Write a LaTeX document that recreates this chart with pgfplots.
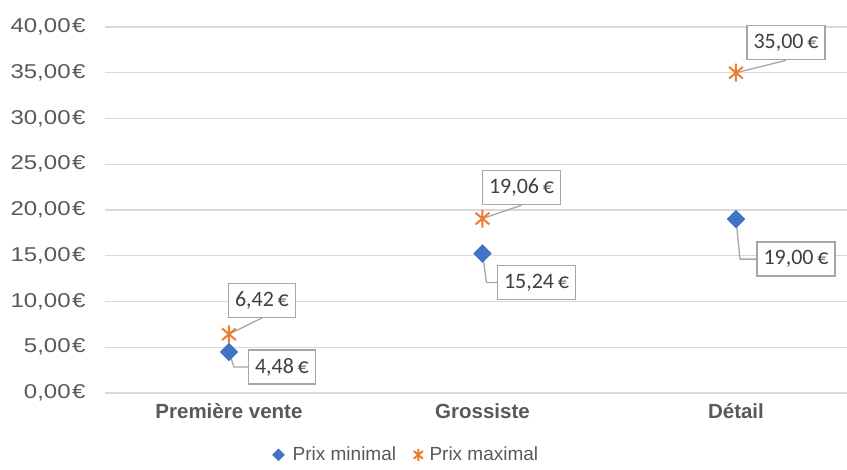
\documentclass[border=0pt]{standalone}
\usepackage{pgfplots}
\pgfplotsset{compat=1.18}
\usepackage{fontspec}
\setmainfont{Liberation Sans}
\newfontfamily\tickfont[FakeStretch=1.2]{Liberation Sans}
\newfontfamily\lblfont{Carlito}
\definecolor{minc}{HTML}{4472C4}
\definecolor{maxc}{HTML}{ED7D31}
\definecolor{txt}{HTML}{595959}
\definecolor{grd}{HTML}{D9D9D9}
\definecolor{lbd}{HTML}{A6A6A6}
\definecolor{ltx}{HTML}{404040}
\pgfdeclareplotmark{xstar}{%
  \pgfpathmoveto{\pgfqpoint{0pt}{\pgfplotmarksize}}%
  \pgfpathlineto{\pgfqpoint{0pt}{-\pgfplotmarksize}}%
  \pgfpathmoveto{\pgfqpoint{.766\pgfplotmarksize}{.643\pgfplotmarksize}}%
  \pgfpathlineto{\pgfqpoint{-.766\pgfplotmarksize}{-.643\pgfplotmarksize}}%
  \pgfpathmoveto{\pgfqpoint{-.766\pgfplotmarksize}{.643\pgfplotmarksize}}%
  \pgfpathlineto{\pgfqpoint{.766\pgfplotmarksize}{-.643\pgfplotmarksize}}%
  \pgfusepathqstroke}
\begin{document}
\begin{tikzpicture}[x=1pt,y=1pt,
  lbl/.style={draw=lbd, line width=1.3pt, fill=white, text=ltx,
    font=\lblfont\fontsize{22}{26}\selectfont, inner xsep=6.5pt, inner ysep=0pt,
    minimum height=34pt},
  ldr/.style={draw=lbd, line width=1.3pt}]
\path[use as bounding box] (-105,-77) rectangle (742,393);
\begin{axis}[at={(0,0)}, anchor=south west, scale only axis,
  width=742pt, height=366pt,
  xmin=-0.489, xmax=2.438, ymin=0, ymax=40,
  clip=false,
  xtick={0,1,2}, xticklabels={Première vente, Grossiste, Détail},
  ytick={0,5,...,40},
  ymajorgrids, grid style={grd, line width=1.3pt},
  axis line style={draw=none}, major tick length=0pt,
  yticklabel={\pgfmathprintnumber[fixed,fixed zerofill,precision=2,use comma,assume math mode=true]{\tick}\hspace{1.5pt}€},
  yticklabel style={font=\tickfont\fontsize{20}{24}\selectfont, text=txt, anchor=east, xshift=-16pt},
  xticklabel style={font=\bfseries\fontsize{20.5}{24}\selectfont, text=txt, anchor=north, yshift=-7pt},
  legend style={at={(0.406,-0.169)}, anchor=center, draw=none,
    font=\fontsize{19}{22}\selectfont, text=txt, legend columns=2,
    /tikz/every even column/.append style={column sep=14pt}},
  legend cell align=left,
]
\addplot[only marks, mark=square*, mark size=6.3pt, mark options={rotate=45, fill=minc, draw=minc},
  legend image code/.code={\draw[mark=square*, mark size=4.2pt, mark options={rotate=45, fill=minc, draw=minc}] plot coordinates {(0pt,0pt)};
    \path (-6pt,0pt) (12pt,0pt);}]
  coordinates {(0,4.48) (1,15.24) (2,19.00)};
\addlegendentry{Prix minimal}
\addplot[only marks, mark=xstar, mark size=9pt, mark options={draw=maxc, line width=2pt},
  legend image code/.code={\draw[mark=xstar, mark size=6pt, mark options={draw=maxc, line width=2pt}] plot coordinates {(0pt,0pt)};
    \path (-6pt,0pt) (9pt,0pt);}]
  coordinates {(0,6.42) (1,19.06) (2,35.00)};
\addlegendentry{Prix maximal}

\node[lbl, xshift=33pt, yshift=34pt] (a1) at (axis cs:0,6.42) {6,42\,€};
\draw[ldr] (axis cs:0,6.42) -- (a1.south);
\node[lbl, xshift=39pt, yshift=31pt] (a2) at (axis cs:1,19.06) {19,06\,€};
\draw[ldr] (axis cs:1,19.06) -- (a2.south);
\node[lbl, xshift=50pt, yshift=30pt] (a3) at (axis cs:2,35.00) {35,00\,€};
\draw[ldr] (axis cs:2,35.00) -- (a3.south);

\node[lbl, xshift=53pt, yshift=-15pt] (b1) at (axis cs:0,4.48) {4,48\,€};
\draw[ldr] (axis cs:0,4.48) -- ++(5pt,-15pt) -- (b1.west);
\node[lbl, xshift=54pt, yshift=-29pt] (b2) at (axis cs:1,15.24) {15,24\,€};
\draw[ldr] (axis cs:1,15.24) -- ++(4pt,-29pt) -- (b2.west);
\node[lbl, xshift=60pt, yshift=-40pt] (b3) at (axis cs:2,19.00) {19,00\,€};
\draw[ldr] (axis cs:2,19.00) -- ++(4pt,-40pt) -- (b3.west);
\end{axis}
\end{tikzpicture}
\end{document}
